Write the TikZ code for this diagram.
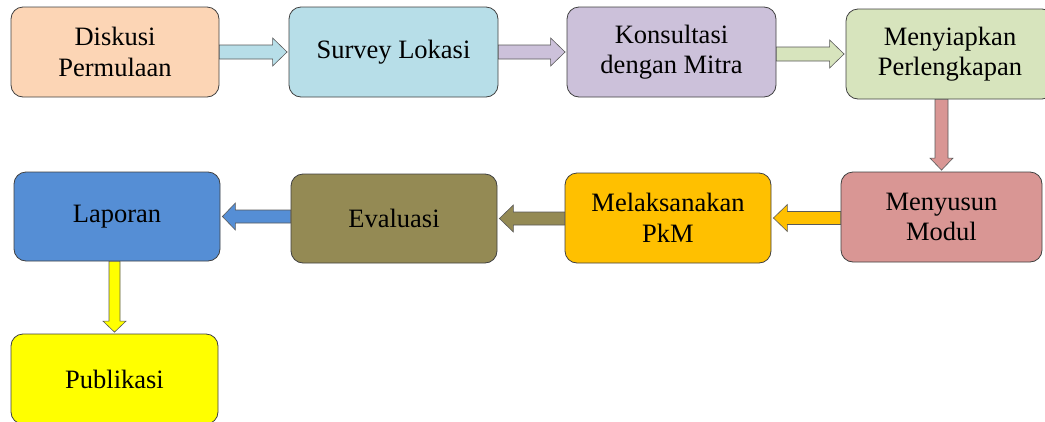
\documentclass[tikz,border=0pt]{standalone}
\usepackage{fontspec}
\setmainfont{Liberation Serif}
\usetikzlibrary{calc}
\definecolor{boxline}{HTML}{404040}
\definecolor{arrline}{HTML}{595959}
\definecolor{cA}{HTML}{FCD5B5}
\definecolor{cB}{HTML}{B7DEE8}
\definecolor{cC}{HTML}{CCC1DA}
\definecolor{cD}{HTML}{D7E4BD}
\definecolor{cE}{HTML}{D99694}
\definecolor{cF}{HTML}{FFC000}
\definecolor{cG}{HTML}{948A54}
\definecolor{cH}{HTML}{558ED5}
\definecolor{cI}{HTML}{FFFF00}
\tikzset{
  box/.style={draw=boxline, line width=0.8pt, rounded corners=12pt,
    minimum height=90pt, inner sep=0pt, align=center,
    font=\fontsize{26.5}{30.5}\selectfont, text=black},
  arrowline/.style={draw=arrline, line width=0.6pt, line join=miter}
}
% right-pointing block arrow: from, to, colour, shaft half, head half, head length
\newcommand{\rarrow}[6]{%
  \draw[arrowline, fill=#3] let \p1=(#1.east), \p2=(#2.west) in
    (\x1,{\y2-#4}) -- ({\x2-1.5pt-#6},{\y2-#4}) -- ({\x2-1.5pt-#6},{\y2-#5})
    -- ({\x2-1.5pt},\y2) -- ({\x2-1.5pt-#6},{\y2+#5}) -- ({\x2-1.5pt-#6},{\y2+#4})
    -- (\x1,{\y2+#4}) -- cycle;}
\newcommand{\larrow}[6]{%
  \draw[arrowline, fill=#3] let \p1=(#1.west), \p2=(#2.east) in
    (\x1,{\y2-#4}) -- ({\x2+2pt+#6},{\y2-#4}) -- ({\x2+2pt+#6},{\y2-#5})
    -- ({\x2+2pt},\y2) -- ({\x2+2pt+#6},{\y2+#5}) -- ({\x2+2pt+#6},{\y2+#4})
    -- (\x1,{\y2+#4}) -- cycle;}
\newcommand{\darrow}[6]{%
  \draw[arrowline, fill=#3] let \p1=(#1.south), \p2=(#2.north) in
    ({\x2-#4},\y1) -- ({\x2-#4},{\y2+1.5pt+#6}) -- ({\x2-#5},{\y2+1.5pt+#6})
    -- (\x2,{\y2+1.5pt}) -- ({\x2+#5},{\y2+1.5pt+#6}) -- ({\x2+#4},{\y2+1.5pt+#6})
    -- ({\x2+#4},\y1) -- cycle;}
\begin{document}
\begin{tikzpicture}[x=1pt,y=-1pt]
\useasboundingbox (0,0) rectangle (1045,421);
\node[box, fill=cA, minimum width=208pt] (n1) at (115,52) {Diskusi\\Permulaan};
\node[box, fill=cB, minimum width=209pt] (n2) at (393.5,52) {Survey Lokasi};
\node[box, fill=cC, minimum width=209pt] (n3) at (671.5,52) {Konsultasi\\dengan Mitra};
\node[box, fill=cD, minimum width=208pt] (n4) at (950,54) {Menyiapkan\\Perlengkapan};
\node[box, fill=cE, minimum width=201pt] (n5) at (941.5,217) {Menyusun\\Modul};
\node[box, fill=cF, minimum width=206pt] (n6) at (668,218) {Melaksanakan\\PkM};
\node[box, fill=cG, minimum width=206pt, minimum height=89pt] (n7) at (394,218.5) {Evaluasi};
\node[box, fill=cH, minimum width=206pt, minimum height=89pt] (n8) at (117,216.5) {Laporan};
\node[box, fill=cI, minimum width=207pt] (n9) at (114.5,379) {Publikasi};

\rarrow{n1}{n2}{cB}{7pt}{14pt}{14.5pt}
\rarrow{n2}{n3}{cC}{7pt}{14pt}{14.5pt}
\rarrow{n3}{n4}{cD}{7pt}{14pt}{14.5pt}
\darrow{n4}{n5}{cE}{6.5pt}{11.5pt}{12pt}
\larrow{n5}{n6}{cF}{6.5pt}{13.5pt}{14pt}
\larrow{n6}{n7}{cG}{6.5pt}{13.5pt}{14pt}
\larrow{n7}{n8}{cH}{6.5pt}{13.5pt}{13pt}
\darrow{n8}{n9}{cI}{5.5pt}{11.5pt}{11pt}
\end{tikzpicture}
\end{document}
